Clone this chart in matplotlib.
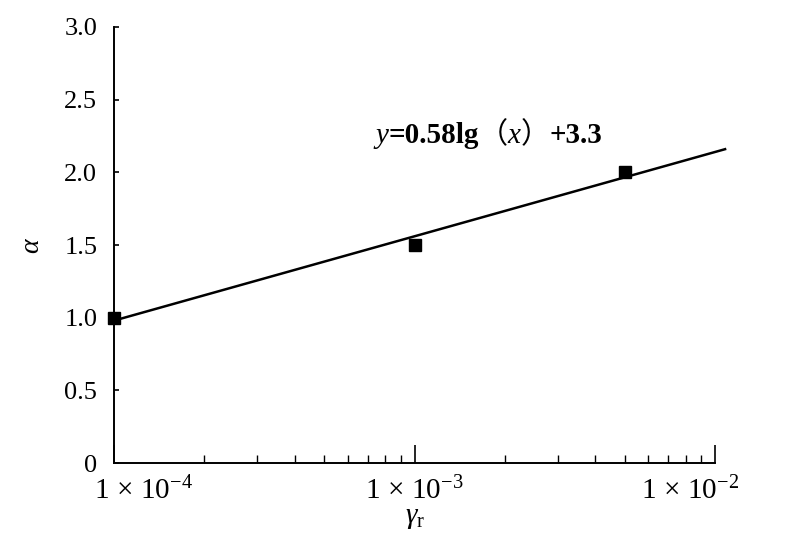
import numpy as np
import matplotlib
matplotlib.use("Agg")
import matplotlib.pyplot as plt
import matplotlib.transforms as mtransforms
from matplotlib.ticker import FixedLocator, LogLocator, NullFormatter

plt.rcParams['font.family'] = ['Liberation Serif', 'Noto Sans CJK SC']
plt.rcParams['mathtext.fontset'] = 'custom'
plt.rcParams['mathtext.rm'] = 'Liberation Serif'
plt.rcParams['mathtext.it'] = 'Liberation Serif:italic'
plt.rcParams['mathtext.bf'] = 'Liberation Serif:bold'

# measured points
gamma_r = [1e-4, 1e-3, 5e-3]
alpha = [1.0, 1.5, 2.0]

# fitted line y = 0.58 lg(x) + 3.3
fit_a = 0.58
fit_b = 3.3
fit_x = [1e-4, 1.08e-2]

y_ticks = [0, 0.5, 1.0, 1.5, 2.0, 2.5, 3.0]
y_tick_labels = ['0', '0.5', '1.0', '1.5', '2.0', '2.5', '3.0']
x_ticks = [1e-4, 1e-3, 1e-2]
x_tick_labels = [r'1$\,\times\,$10$^{-4}$', r'1$\,\times\,$10$^{-3}$', r'1$\,\times\,$10$^{-2}$']
x_label_shift = [30, 0, -25]   # px, labels are not centred on ticks in the original

# equation pieces: (text, style, weight, family)
eq_parts = [('y', 'italic', 'normal', 'Liberation Serif'),
            ('=0.58lg', 'normal', 'bold', 'Liberation Serif'),
            ('（', 'normal', 'normal', 'Noto Sans CJK SC'),
            ('x', 'italic', 'normal', 'Liberation Serif'),
            ('）', 'normal', 'normal', 'Noto Sans CJK SC'),
            ('+3.3', 'normal', 'bold', 'Liberation Serif')]

fig = plt.figure(figsize=(7.88, 5.59), dpi=100)
ax = fig.add_axes([0.1447, 0.1717, 0.7627, 0.78])

fx = np.array(fit_x)
ax.plot(fx, fit_a * np.log10(fx) + fit_b, color='black', linewidth=1.8, clip_on=False, zorder=2)
ax.plot(gamma_r, alpha, 's', color='black', markersize=8.5, clip_on=False, zorder=3)

ax.set_xscale('log')
ax.set_xlim(1e-4, 1e-2)
ax.set_ylim(0, 3.0)

ax.xaxis.set_major_locator(FixedLocator(x_ticks))
ax.set_xticklabels(x_tick_labels)
ax.xaxis.set_minor_locator(LogLocator(base=10, subs=np.arange(2, 10)))
ax.xaxis.set_minor_formatter(NullFormatter())
ax.set_yticks(y_ticks)
ax.set_yticklabels(y_tick_labels)

for s in ['top', 'right']:
    ax.spines[s].set_visible(False)
for s in ['left', 'bottom']:
    ax.spines[s].set_linewidth(1.4)

ax.tick_params(axis='y', direction='in', length=3.6, width=1.2, pad=12, labelsize=19)
ax.tick_params(axis='x', which='major', direction='in', length=13, width=1.2, pad=10, labelsize=21)
ax.tick_params(axis='x', which='minor', direction='in', length=6, width=1.0)

for lab, dx in zip(ax.get_xticklabels(), x_label_shift):
    lab.set_transform(lab.get_transform() + mtransforms.ScaledTranslation(dx / 100, 0, fig.dpi_scale_trans))

ax.set_ylabel(r'$\alpha$', fontsize=20, labelpad=14)
ax.set_xlabel(r'$\gamma_{\mathrm{r}}$', fontsize=21, labelpad=0)

# equation text, built piece by piece
renderer = fig.canvas.get_renderer()
cum = 0.0
for txt, st, wt, fam in eq_parts:
    tr = mtransforms.offset_copy(ax.transData, fig=fig, x=cum, y=0, units='dots')
    t = ax.text(7.4e-4, 2.2, txt, fontsize=21, fontstyle=st, fontweight=wt,
                family=fam, ha='left', va='baseline', transform=tr)
    cum += t.get_window_extent(renderer).width

fig.savefig('out.png', dpi=100)
